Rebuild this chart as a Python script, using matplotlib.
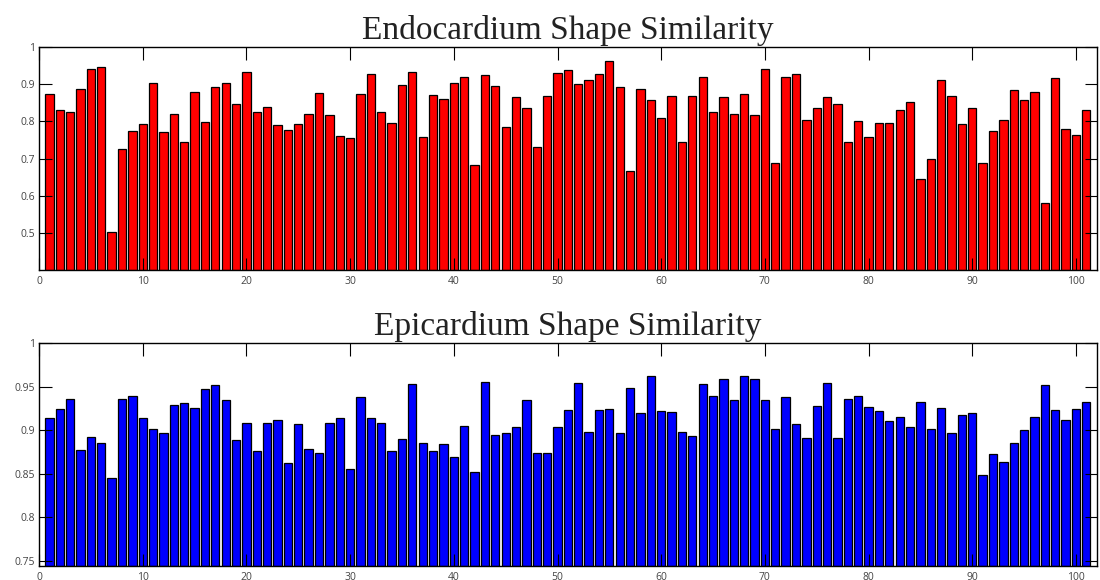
import numpy as np
import matplotlib
matplotlib.use("Agg")
import matplotlib.pyplot as plt

endo = [0.874, 0.831, 0.826, 0.887, 0.941, 0.946, 0.503, 0.727, 0.773, 0.793,
        0.902, 0.772, 0.820, 0.746, 0.879, 0.799, 0.892, 0.902, 0.847, 0.934,
        0.826, 0.839, 0.791, 0.778, 0.792, 0.819, 0.877, 0.816, 0.762, 0.756,
        0.874, 0.928, 0.825, 0.797, 0.898, 0.933, 0.758, 0.870, 0.860, 0.903,
        0.918, 0.683, 0.925, 0.895, 0.786, 0.866, 0.835, 0.732, 0.869, 0.929,
        0.938, 0.901, 0.912, 0.928, 0.963, 0.893, 0.668, 0.887, 0.858, 0.808,
        0.868, 0.745, 0.869, 0.919, 0.826, 0.866, 0.821, 0.874, 0.818, 0.942,
        0.689, 0.919, 0.928, 0.804, 0.836, 0.866, 0.847, 0.746, 0.801, 0.757,
        0.796, 0.796, 0.831, 0.852, 0.644, 0.700, 0.911, 0.867, 0.793, 0.836,
        0.689, 0.774, 0.804, 0.884, 0.858, 0.879, 0.580, 0.917, 0.780, 0.763,
        0.831]

epi = [0.914, 0.925, 0.936, 0.877, 0.892, 0.885, 0.845, 0.936, 0.940, 0.914,
       0.901, 0.897, 0.929, 0.932, 0.926, 0.948, 0.952, 0.935, 0.889, 0.908,
       0.876, 0.909, 0.912, 0.862, 0.907, 0.879, 0.874, 0.909, 0.914, 0.856,
       0.938, 0.914, 0.908, 0.876, 0.890, 0.953, 0.886, 0.876, 0.884, 0.869,
       0.905, 0.852, 0.956, 0.895, 0.897, 0.904, 0.935, 0.874, 0.874, 0.904,
       0.923, 0.954, 0.898, 0.923, 0.925, 0.897, 0.949, 0.920, 0.962, 0.922,
       0.921, 0.898, 0.894, 0.953, 0.939, 0.959, 0.935, 0.962, 0.959, 0.935,
       0.902, 0.938, 0.907, 0.891, 0.928, 0.954, 0.891, 0.936, 0.940, 0.927,
       0.922, 0.911, 0.915, 0.904, 0.933, 0.901, 0.926, 0.897, 0.918, 0.920,
       0.849, 0.873, 0.864, 0.886, 0.900, 0.915, 0.952, 0.923, 0.912, 0.925,
       0.933]

titles = ["Endocardium Shape Similarity", "Epicardium Shape Similarity"]
x_ticks = [0, 10, 20, 30, 40, 50, 60, 70, 80, 90, 100]
endo_yticks = [0.5, 0.6, 0.7, 0.8, 0.9, 1.0]
endo_ylabels = ["0.5", "0.6", "0.7", "0.8", "0.9", "1"]
epi_yticks = [0.75, 0.8, 0.85, 0.9, 0.95, 1.0]
epi_ylabels = ["0.75", "0.8", "0.85", "0.9", "0.95", "1"]

fig = plt.figure(figsize=(11, 5.8), dpi=100)
ax1 = fig.add_axes([0.0355, 0.534, 0.9615, 0.385])
ax2 = fig.add_axes([0.0355, 0.024, 0.9615, 0.384])

def style(ax, data, color, ylim, yticks, ylabels, title):
    x = np.arange(1, len(data) + 1)
    base = ylim[0]
    ax.bar(x, np.array(data) - base, bottom=base, width=0.8, color=color,
           edgecolor="black", linewidth=0.9)
    ax.set_xlim(0, 102)
    ax.set_ylim(*ylim)
    ax.set_xticks(x_ticks)
    ax.set_xticklabels([str(t) for t in x_ticks])
    ax.set_yticks(yticks)
    ax.set_yticklabels(ylabels)
    ax.tick_params(direction="in", length=9, width=0.8, top=True, right=True,
                   labelsize=7.5, labelcolor="#444444")
    ax.tick_params(axis="x", pad=4)
    ax.tick_params(axis="y", pad=3)
    for lab in ax.get_xticklabels() + ax.get_yticklabels():
        lab.set_family("Open Sans")
    for s in ax.spines.values():
        s.set_linewidth(1.0)
    ax.set_title(title, fontsize=24, family="Liberation Serif", color="#222222", pad=6)

style(ax1, endo, "#ff0000", (0.4, 1.0), endo_yticks, endo_ylabels, titles[0])
style(ax2, epi, "#0000ff", (0.744, 1.0), epi_yticks, epi_ylabels, titles[1])

fig.savefig("out.png", dpi=100)
